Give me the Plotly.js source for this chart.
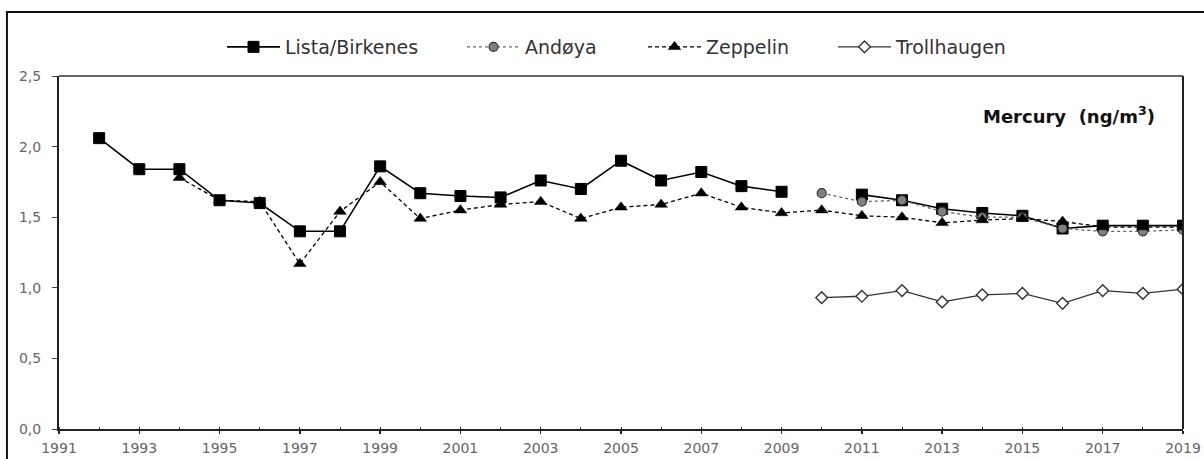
<!DOCTYPE html>
<html>
<head>
<meta charset="utf-8">
<script src="https://cdn.plot.ly/plotly-3.0.1.min.js"></script>
<style>html,body{margin:0;padding:0;background:#fff;}#chart{width:1204px;height:459px;}</style>
</head>
<body>
<div id="chart"></div>
<script>
const listaYears = [1992,1993,1994,1995,1996,1997,1998,1999,2000,2001,2002,2003,2004,2005,2006,2007,2008,2009,2010,2011,2012,2013,2014,2015,2016,2017,2018,2019];
const listaValues = [2.06,1.84,1.84,1.62,1.60,1.40,1.40,1.86,1.67,1.65,1.64,1.76,1.70,1.90,1.76,1.82,1.72,1.68,null,1.66,1.62,1.56,1.53,1.51,1.42,1.44,1.44,1.44];

const andoyaYears = [2010,2011,2012,2013,2014,2015,2016,2017,2018,2019];
const andoyaValues = [1.67,1.61,1.62,1.54,1.50,1.50,1.42,1.40,1.40,1.41];

const zeppelinYears = [1994,1995,1996,1997,1998,1999,2000,2001,2002,2003,2004,2005,2006,2007,2008,2009,2010,2011,2012,2013,2014,2015,2016,2017,2018,2019];
const zeppelinValues = [1.78,1.62,1.61,1.17,1.54,1.75,1.49,1.55,1.59,1.61,1.49,1.57,1.59,1.67,1.57,1.53,1.55,1.51,1.50,1.46,1.48,1.49,1.47,1.43,1.43,1.43];

const trollYears = [2010,2011,2012,2013,2014,2015,2016,2017,2018,2019];
const trollValues = [0.93,0.94,0.98,0.90,0.95,0.96,0.89,0.98,0.96,0.99];

const seriesNames = ['Lista/Birkenes','Andøya','Zeppelin','Trollhaugen'];
const xTickVals = [1991,1993,1995,1997,1999,2001,2003,2005,2007,2009,2011,2013,2015,2017,2019];
const yTickVals = [0,0.5,1.0,1.5,2.0,2.5];
const chartLabel = 'Mercury  (ng/m<sup>3</sup>)';

const FONT = 'DejaVu Sans, Verdana, sans-serif';

const traces = [
  {x: listaYears, y: listaValues, name: seriesNames[0], mode: 'lines+markers', connectgaps: false, legend: 'legend',
   line: {color: '#000', width: 1.6, dash: 'solid'},
   marker: {symbol: 'square', size: 11, color: '#000', line: {color: '#000', width: 1}}},
  {x: andoyaYears, y: andoyaValues, name: seriesNames[1], mode: 'lines+markers', legend: 'legend2',
   line: {color: '#666', width: 1.3, dash: 'dot'},
   marker: {symbol: 'circle', size: 9, color: '#808080', line: {color: '#333', width: 1.2}}},
  {x: zeppelinYears, y: zeppelinValues, name: seriesNames[2], mode: 'lines+markers', legend: 'legend3',
   line: {color: '#000', width: 1.3, dash: '4px,3px'},
   marker: {symbol: 'triangle-up', size: 11, color: '#000', line: {color: '#000', width: 0.5}}},
  {x: trollYears, y: trollValues, name: seriesNames[3], mode: 'lines+markers', legend: 'legend4',
   line: {color: '#333', width: 1.3, dash: 'solid'},
   marker: {symbol: 'diamond', size: 9, color: '#fff', line: {color: '#333', width: 1.4}}}
];

function legendAt(xpx) {
  return {orientation: 'h', xref: 'container', yref: 'container', x: xpx / 1204, xanchor: 'left',
          y: 1 - 47 / 459, yanchor: 'middle', itemwidth: 53, borderwidth: 0,
          font: {size: 19, color: '#333', family: FONT}, bgcolor: 'rgba(0,0,0,0)'};
}

const layout = {
  width: 1204, height: 459,
  margin: {l: 59, r: 21, t: 76, b: 30, pad: 0},
  paper_bgcolor: '#fff', plot_bgcolor: '#fff',
  separators: ',.',
  font: {family: FONT, color: '#666', size: 14},
  showlegend: true,
  legend: legendAt(222),
  legend2: legendAt(462),
  legend3: legendAt(643),
  legend4: legendAt(833),
  xaxis: {range: [1991, 2019], tickvals: xTickVals, ticktext: xTickVals.map(String),
          showgrid: false, zeroline: false, showline: true, linecolor: '#222', linewidth: 2,
          ticks: 'outside', ticklen: 3, tickwidth: 1.5, tickcolor: '#222', ticklabelstandoff: 2,
          minor: {dtick: 1, tick0: 1991, ticks: 'inside', ticklen: 2, tickcolor: '#333', tickwidth: 1},
          tickfont: {size: 14, color: '#666', family: FONT}},
  yaxis: {range: [0, 2.5], tickvals: yTickVals, tickformat: '.1f',
          showgrid: false, zeroline: false, showline: true, linecolor: '#222', linewidth: 2,
          ticks: 'outside', ticklen: 5, tickwidth: 1, tickcolor: '#444', ticklabelstandoff: 8,
          tickfont: {size: 14, color: '#666', family: FONT}},
  shapes: [
    {type: 'line', xref: 'paper', yref: 'paper', x0: 0, x1: 1, y0: 1, y1: 1, line: {color: '#666', width: 2}},
    {type: 'line', xref: 'paper', yref: 'paper', x0: 1, x1: 1, y0: 0, y1: 1, line: {color: '#222', width: 2}},
    {type: 'rect', xref: 'paper', yref: 'paper', x0: -0.0463, x1: 1.03, y0: -0.2, y1: 1.181,
     line: {color: '#111', width: 2}, layer: 'below'}
  ],
  annotations: [
    {text: chartLabel, xref: 'paper', yref: 'paper', x: (1157 - 59) / 1124, y: (429 - 115) / 353,
     xanchor: 'right', yanchor: 'middle',
     showarrow: false, font: {size: 18, color: '#111', family: FONT, weight: 'bold'}}
  ]
};

Plotly.newPlot('chart', traces, layout, {displayModeBar: false, staticPlot: true});
</script>
</body>
</html>
